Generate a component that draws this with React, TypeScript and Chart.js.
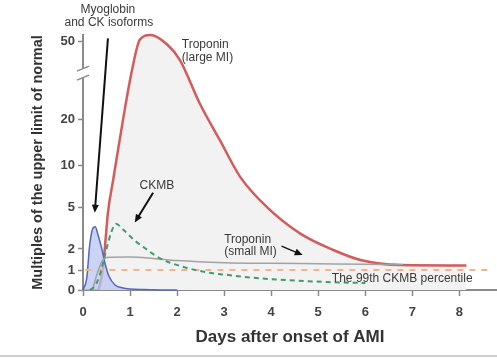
import React, { useEffect, useRef } from "react";
import { Chart, registerables, LinearScale } from "chart.js";

// ---- data ----
const xTicks = [0, 1, 2, 3, 4, 5, 6, 7, 8];
const yTicks = [0, 1, 2, 5, 10, 20, 50];
// the value axis is drawn piecewise (with a break between 20 and 50)
const yStops = [0, 1, 2, 5, 10, 20, 50, 53];
const yStopFrac = [0, 0.078, 0.161, 0.325, 0.49, 0.667, 0.973, 1];
const yBreakValue = 38;

const myoDays = [0, 0.08, 0.14, 0.2, 0.26, 0.32, 0.4, 0.47, 0.55, 0.68, 0.85, 1.0, 1.3, 1.7, 2.0];
const myoValues = [0, 0.6, 2.2, 3.4, 3.6, 3.0, 2.0, 1.3, 0.7, 0.25, 0.1, 0.05, 0.02, 0, 0];

const ckmbDays = [0.15, 0.25, 0.35, 0.5, 0.6, 0.7, 0.85, 1.1, 1.32, 1.64, 2.06, 2.6, 3.1, 3.6, 4.3, 5.2, 6.0];
const ckmbValues = [0, 0.2, 0.7, 2.0, 3.2, 3.8, 3.4, 2.6, 2.05, 1.55, 1.2, 0.9, 0.75, 0.62, 0.5, 0.4, 0.35];

const tropLargeDays = [0.33, 0.42, 0.47, 0.53, 0.64, 0.85, 1.04, 1.21, 1.43, 1.79, 2.06, 2.49, 2.91, 3.34, 3.91, 4.62, 5.32, 5.9, 6.74, 8.15];
const tropLargeValues = [0, 1, 2.3, 4.6, 8.2, 20, 39, 51, 53, 49, 43, 26, 15.5, 8.6, 5, 3.1, 1.95, 1.48, 1.24, 1.22];

const tropSmallDays = [0.2, 0.3, 0.4, 0.5, 1.0, 1.5, 2.0, 3.0, 4.0, 5.0, 6.0, 6.8];
const tropSmallValues = [0, 0.8, 1.4, 1.6, 1.62, 1.55, 1.45, 1.35, 1.32, 1.3, 1.28, 1.26];

const limitDays = [0.05, 8.65];
const limitValues = [1, 1];

const noteText = ["Myoglobin", "and CK isoforms", "Troponin", "(large MI)", "CKMB", "Troponin", "(small MI)", "The 99th CKMB percentile"];
const noteDay = [0.53, 0.55, 2.1, 2.1, 1.57, 3.0, 3.0, 5.29];
const noteValue = [63.9, 58.2, 48.8, 43.8, 7.6, 2.64, 1.86, 0.55];
const noteAlign = ["center", "center", "left", "left", "center", "left", "left", "left"];

const arrowFromDay = [0.53, 1.49, 4.22];
const arrowFromValue = [51.5, 6.7, 2.2];
const arrowToDay = [0.25, 1.1, 4.67];
const arrowToValue = [4.6, 3.9, 1.71];

// ---- custom piecewise scale ----
function valueToFrac(v: number): number {
  const n = yStops.length;
  let i = 0;
  if (v <= yStops[0]) i = 0;
  else if (v >= yStops[n - 1]) i = n - 2;
  else {
    while (i < n - 2 && v > yStops[i + 1]) i++;
  }
  const t = (v - yStops[i]) / (yStops[i + 1] - yStops[i]);
  return yStopFrac[i] + t * (yStopFrac[i + 1] - yStopFrac[i]);
}
function fracToValue(f: number): number {
  const n = yStopFrac.length;
  let i = 0;
  if (f <= yStopFrac[0]) i = 0;
  else if (f >= yStopFrac[n - 1]) i = n - 2;
  else {
    while (i < n - 2 && f > yStopFrac[i + 1]) i++;
  }
  const t = (f - yStopFrac[i]) / (yStopFrac[i + 1] - yStopFrac[i]);
  return yStops[i] + t * (yStops[i + 1] - yStops[i]);
}

class BrokenScale extends LinearScale {
  static id = "broken";
  getPixelForValue(value: any) {
    if (value === null || value === undefined) return NaN;
    return (this as any).getPixelForDecimal(valueToFrac(+value));
  }
  getValueForPixel(pixel: number) {
    return fracToValue((this as any).getDecimalForPixel(pixel));
  }
}

Chart.register(...registerables, BrokenScale as any);

const pts = (xs: number[], ys: number[]) => xs.map((x, i) => ({ x, y: ys[i] }));

const FONT = '"Liberation Sans", Arial, Helvetica, sans-serif';

const notesPlugin = {
  id: "notes",
  afterDatasetsDraw(chart: any) {
    const { ctx, scales, chartArea, width, height } = chart;
    const x = scales.x;
    const y = scales.y;
    ctx.save();

    // axis break
    const yb = y.getPixelForValue(yBreakValue);
    const ax = chartArea.left;
    ctx.fillStyle = "#ffffff";
    ctx.fillRect(ax - 6, yb - 5, 12, 10);
    ctx.strokeStyle = "#8a8a8a";
    ctx.lineWidth = 1.5;
    ctx.beginPath();
    ctx.moveTo(ax - 6, yb - 2);
    ctx.lineTo(ax + 6, yb - 7);
    ctx.moveTo(ax - 6, yb + 7);
    ctx.lineTo(ax + 6, yb + 2);
    ctx.stroke();

    // arrows
    ctx.strokeStyle = "#111";
    ctx.fillStyle = "#111";
    arrowFromDay.forEach((d, i) => {
      const x1 = x.getPixelForValue(d);
      const y1 = y.getPixelForValue(arrowFromValue[i]);
      const x2 = x.getPixelForValue(arrowToDay[i]);
      const y2 = y.getPixelForValue(arrowToValue[i]);
      const ang = Math.atan2(y2 - y1, x2 - x1);
      ctx.lineWidth = i === 2 ? 1.2 : 2;
      ctx.beginPath();
      ctx.moveTo(x1, y1);
      ctx.lineTo(x2 - Math.cos(ang) * 5, y2 - Math.sin(ang) * 5);
      ctx.stroke();
      const L = 8, W = 3.5;
      ctx.beginPath();
      ctx.moveTo(x2, y2);
      ctx.lineTo(x2 - L * Math.cos(ang) + W * Math.sin(ang), y2 - L * Math.sin(ang) - W * Math.cos(ang));
      ctx.lineTo(x2 - L * Math.cos(ang) - W * Math.sin(ang), y2 - L * Math.sin(ang) + W * Math.cos(ang));
      ctx.closePath();
      ctx.fill();
    });

    // notes
    ctx.font = `12px ${FONT}`;
    ctx.fillStyle = "#3a3a3a";
    ctx.textBaseline = "middle";
    noteText.forEach((t, i) => {
      ctx.textAlign = noteAlign[i];
      ctx.fillText(t, x.getPixelForValue(noteDay[i]), y.getPixelForValue(noteValue[i]));
    });

    // bottom rule
    ctx.fillStyle = "#cfcfcf";
    ctx.fillRect(0, height - 4, width, 2);
    ctx.restore();
  },
};

export default function App() {
  const ref = useRef<HTMLCanvasElement>(null);
  useEffect(() => {
    document.body.style.margin = "0";
    const common = { pointRadius: 0, cubicInterpolationMode: "monotone" as const, clip: 6 };
    const chart = new Chart(ref.current!, {
      type: "line",
      data: {
        datasets: [
          {
            label: "Troponin (large MI)",
            data: pts(tropLargeDays, tropLargeValues),
            borderColor: "#d35b5b",
            borderWidth: 2.5,
            backgroundColor: "#f2f2f2",
            fill: "origin",
            order: 5,
            ...common,
          },
          {
            label: "Myoglobin and CK isoforms",
            data: pts(myoDays, myoValues),
            borderColor: "#5566c0",
            borderWidth: 1.5,
            backgroundColor: "rgba(185,197,240,0.75)",
            fill: "origin",
            order: 4,
            ...common,
          },
          {
            label: "Upper limit",
            data: pts(limitDays, limitValues),
            borderColor: "#f2b585",
            borderWidth: 2,
            borderDash: [6, 6],
            fill: false,
            order: 3,
            ...common,
          },
          {
            label: "Troponin (small MI)",
            data: pts(tropSmallDays, tropSmallValues),
            borderColor: "#a3a3a3",
            borderWidth: 1.5,
            fill: false,
            order: 2,
            ...common,
          },
          {
            label: "CKMB",
            data: pts(ckmbDays, ckmbValues),
            borderColor: "#3e9c6e",
            borderWidth: 2,
            borderDash: [5, 4],
            fill: false,
            order: 1,
            ...common,
          },
        ],
      },
      options: {
        animation: false,
        responsive: true,
        maintainAspectRatio: false,
        layout: { padding: { top: 35, right: 0, left: 0, bottom: 0 } },
        plugins: { legend: { display: false }, tooltip: { enabled: false } },
        scales: {
          x: {
            type: "linear",
            min: 0,
            max: 8.8,
            afterBuildTicks: (s: any) => {
              s.ticks = xTicks.map((v) => ({ value: v }));
            },
            afterFit: (s: any) => {
              s.height = 69;
            },
            border: { display: true, color: "#8a8a8a", width: 2 },
            grid: { drawOnChartArea: false, drawTicks: true, tickLength: 6, color: "#8a8a8a", tickWidth: 1.5 },
            ticks: { autoSkip: false, padding: 9, color: "#444", font: { family: FONT, size: 13, weight: "bold" }, maxRotation: 0 },
            title: {
              display: true,
              text: "Days after onset of AMI",
              color: "#333",
              font: { family: FONT, size: 17, weight: "bold" },
              padding: { top: 0, bottom: 11 },
            },
          },
          y: {
            type: "broken" as any,
            min: 0,
            max: 53,
            afterBuildTicks: (s: any) => {
              s.ticks = yTicks.map((v) => ({ value: v }));
            },
            afterFit: (s: any) => {
              s.width = 83;
            },
            border: { display: true, color: "#8a8a8a", width: 2 },
            grid: { drawOnChartArea: false, drawTicks: true, tickLength: 5, color: "#8a8a8a", tickWidth: 1.5 },
            ticks: {
              autoSkip: false,
              padding: 3,
              color: "#444",
              font: { family: FONT, size: 13, weight: "bold" },
              callback: (v: any) => String(v),
            },
            title: {
              display: true,
              text: "Multiples of the upper limit of normal",
              color: "#333",
              font: { family: FONT, size: 14.5, weight: "bold" },
              padding: { top: 29, bottom: 0 },
            },
          },
        },
      },
      plugins: [notesPlugin],
    } as any);
    return () => chart.destroy();
  }, []);
  return (
    <div style={{ width: 497, height: 359, position: "relative" }}>
      <canvas ref={ref} />
    </div>
  );
}
